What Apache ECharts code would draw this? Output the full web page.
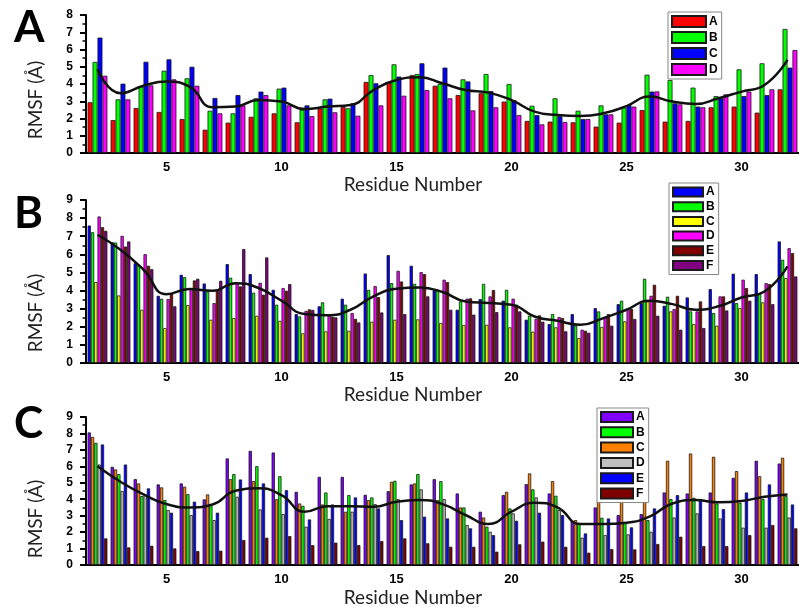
<!DOCTYPE html>
<html>
<head>
<meta charset="utf-8">
<script src="https://cdn.jsdelivr.net/npm/echarts@6/dist/echarts.min.js"></script>
<style>
  html, body { margin: 0; padding: 0; background: #fff; }
  #rmsfChart { width: 799px; height: 607px; }
</style>
</head>
<body>
<div id="rmsfChart"></div>
<script>
// residue numbers (x axis categories)
var residues = ['2','3','4','5','6','7','8','9','10','11','12','13','14','15','16','17',
  '18','19','20','21','22','23','24','25','26','27','28','29','30','31','32'];

// panel A
var aA = [2.94,1.91,2.61,2.38,1.97,1.35,1.76,2.1,2.3,1.78,2.59,2.67,4.12,4.08,4.52,3.9,3.36,3.46,2.98,1.86,1.82,1.78,1.53,1.76,2.49,1.82,1.86,2.65,2.69,2.34,3.69];
var aB = [5.28,3.11,3.88,4.77,4.33,2.45,2.3,3.17,3.73,2.51,3.11,2.59,4.52,5.14,4.58,4.0,4.27,4.58,4.0,2.74,3.17,2.45,2.76,2.63,4.54,4.23,3.79,3.3,4.85,5.2,7.19];
var aC = [6.69,4.02,5.29,5.43,5.0,3.19,3.36,3.56,3.79,2.76,3.15,2.88,4.04,4.43,5.2,4.95,4.15,3.59,3.07,2.2,2.14,1.97,2.24,2.78,3.56,2.88,2.69,3.17,3.3,3.36,4.95];
var aD = [4.48,3.11,3.92,4.27,3.9,2.3,2.76,3.36,2.76,2.14,2.36,2.16,2.76,3.32,3.65,3.17,2.47,2.65,2.2,1.66,1.8,1.97,2.24,2.69,3.57,2.82,2.65,3.4,3.56,3.69,5.97];
var aAvg = [4.85,3.46,3.9,4.14,3.85,2.65,2.69,3.07,2.98,2.55,2.69,2.78,3.65,4.23,4.39,4.04,3.65,3.5,3.07,2.4,2.2,2.14,2.3,2.72,3.27,2.98,2.84,3.17,3.56,3.94,5.4];

// panel B
var bA = [7.59,6.67,5.51,3.71,4.87,4.39,5.46,4.91,4.04,2.7,3.13,3.55,4.94,5.96,5.37,4.01,2.94,3.53,3.44,2.39,2.15,2.7,3.03,3.25,3.31,3.16,3.62,4.08,4.93,4.91,6.71];
var bB = [7.22,6.65,5.42,3.55,4.74,3.95,4.71,3.88,3.22,2.57,3.35,3.22,4.04,4.41,4.37,4.04,3.4,4.37,4.04,2.61,2.7,2.06,2.85,3.44,4.65,3.66,2.85,2.76,3.31,3.81,5.7];
var bC = [4.47,3.73,2.94,1.93,3.2,2.39,2.48,2.61,2.33,1.64,1.75,1.78,2.28,2.39,2.41,2.21,2.1,2.11,1.97,1.73,1.97,1.38,1.99,2.3,3.4,2.85,2.15,2.06,3.03,3.35,4.69];
var bD = [8.09,7.02,6.01,3.53,4.1,3.31,4.41,4.43,4.14,2.88,2.61,2.76,4.25,5.09,5.02,4.6,3.55,3.68,3.55,2.44,2.54,1.84,2.54,3.03,3.71,2.98,2.85,3.68,4.6,4.41,6.34];
var bE = [7.5,6.43,5.37,3.84,4.56,3.99,4.23,3.77,3.99,2.96,2.56,2.44,3.64,4.5,4.91,4.47,3.57,4.03,3.22,2.63,2.48,1.78,2.7,2.98,4.32,3.71,3.4,3.68,4.14,4.36,6.07];
var bF = [7.3,6.71,5.18,3.13,4.65,4.54,6.29,5.83,4.36,2.93,2.52,2.24,2.79,2.7,3.68,2.94,2.67,2.81,2.85,2.28,1.75,1.67,2.06,2.43,2.61,1.84,1.93,2.9,3.44,3.25,4.78];
var bAvg = [7.08,6.25,5.15,3.8,4.08,3.99,4.41,4.14,3.44,2.7,2.63,2.94,3.68,4.1,4.17,3.92,3.4,3.31,3.22,2.57,2.33,2.11,2.48,2.94,3.44,3.25,2.94,3.13,3.62,3.95,5.33];

// panel C
var cA = [8.06,5.97,5.22,4.9,4.96,3.99,6.48,6.94,6.84,4.45,5.36,5.36,4.27,4.49,4.9,5.22,4.35,3.24,4.25,4.92,4.35,2.67,3.5,3.04,3.1,4.41,4.35,4.41,5.3,6.34,6.17];
var cB = [7.43,5.53,4.19,3.95,4.31,3.64,5.53,6.01,5.4,3.6,4.41,4.25,4.11,5.12,5.53,5.1,3.5,2.33,3.44,4.6,4.21,2.49,2.87,2.57,2.73,4.01,4.09,3.74,3.79,4.01,4.19];
var cC = [7.79,5.81,4.96,4.72,4.76,4.29,5.22,5.1,4.0,3.74,3.68,3.24,3.95,5.06,4.96,3.95,3.5,2.89,4.45,5.57,5.1,2.73,3.95,4.11,3.99,6.34,6.78,6.58,5.71,5.4,6.52];
var cD = [6.11,4.5,4.25,3.34,3.04,2.73,4.15,3.38,3.1,2.33,2.8,3.24,3.7,4.0,4.6,4.01,2.43,2.02,3.14,4.11,3.34,1.66,1.82,1.86,2.02,2.89,3.14,2.83,2.27,2.27,2.89];
var cE = [7.33,6.11,4.66,3.18,3.85,3.18,5.2,4.96,4.55,2.77,3.68,4.11,3.44,2.73,2.94,2.83,2.23,1.82,2.69,3.18,3.04,1.92,2.83,2.29,3.44,4.25,3.95,3.4,4.41,4.9,3.68];
var cF = [1.62,1.07,1.17,1.01,0.85,0.87,1.52,1.66,1.76,1.21,1.36,1.21,1.46,1.62,1.32,1.11,1.11,0.81,1.26,1.42,1.11,0.75,0.97,0.95,1.28,1.72,1.15,1.15,1.82,2.43,2.23];
var cAvg = [6.0,5.06,4.29,3.7,3.5,3.68,4.51,4.66,4.25,3.24,3.58,3.58,3.54,3.85,3.95,3.7,3.04,2.49,3.24,3.79,3.5,2.49,2.49,2.57,2.94,3.74,3.95,3.81,3.89,4.15,4.29];

var chartDom = document.getElementById('rmsfChart');
var myChart = echarts.init(chartDom);

// one entry per panel; bars are drawn in "bars" order, legend uses "legendNames"
var panels = [
  {
    key: 'A', top: 15, bottom: 454, max: 8,
    bars: [['A', aA, '#ff0000'], ['B', aB, '#00ff00'], ['C', aC, '#0000ff'], ['D', aD, '#ff00ff']],
    legendNames: ['A', 'B', 'C', 'D'],
    avg: aAvg,
    legend: { left: 668, top: 12, itemWidth: 34, itemHeight: 11, itemGap: 3 }
  },
  {
    key: 'B', top: 200, bottom: 244, max: 9,
    bars: [['A', bA, '#0000ff'], ['B', bB, '#00ff00'], ['C', bC, '#ffff00'], ['D', bD, '#ff00ff'], ['E', bE, '#800000'], ['F', bF, '#800080']],
    legendNames: ['A', 'B', 'C', 'D', 'E', 'F'],
    avg: bAvg,
    legend: { left: 669, top: 183, itemWidth: 30, itemHeight: 9, itemGap: 2.7 }
  },
  {
    key: 'C', top: 417, bottom: 42, max: 9,
    bars: [['A', cA, '#8000ff'], ['C', cC, '#ff8000'], ['B', cB, '#00ff00'], ['D', cD, '#c0c0c0'], ['E', cE, '#0000ff'], ['F', cF, '#800000']],
    legendNames: ['A', 'B', 'C', 'D', 'E', 'F'],
    avg: cAvg,
    legend: { left: 597, top: 408, itemWidth: 32, itemHeight: 10, itemGap: 3.3 }
  }
];

var grids = [], xAxes = [], yAxes = [], series = [], legends = [], texts = [];

panels.forEach(function (p, i) {
  grids.push({ left: 86, right: -6, top: p.top, bottom: p.bottom });

  // main x axis: labels + ticks at 5, 10, ...
  xAxes.push({
    type: 'category', gridIndex: i, data: residues, position: 'bottom',
    axisLine: { lineStyle: { color: '#000', width: 2 } },
    axisTick: {
      alignWithLabel: true, length: 5, lineStyle: { color: '#000', width: 2 },
      interval: function (idx, val) { return Number(val) % 5 === 0; }
    },
    axisLabel: {
      interval: function (idx, val) { return Number(val) % 5 === 0; },
      color: '#000', fontWeight: 'bold', fontSize: 13, margin: 8
    },
    splitLine: { show: false }
  });
  // second x axis only for the small ticks at 2.5, 7.5, ...
  xAxes.push({
    type: 'category', gridIndex: i, data: residues, position: 'bottom',
    axisLine: { show: false },
    axisLabel: { show: false },
    axisTick: {
      length: 3, lineStyle: { color: '#000', width: 2 },
      interval: function (idx) { return idx % 5 === 1; }
    },
    splitLine: { show: false }
  });

  yAxes.push({
    type: 'value', gridIndex: i, min: 0, max: p.max, interval: 1,
    axisLine: { show: true, lineStyle: { color: '#000', width: 2 } },
    axisTick: { show: true, length: 6, lineStyle: { color: '#000', width: 2 } },
    minorTick: { show: true, splitNumber: 2, length: 3.5, lineStyle: { color: '#000', width: 1.5 } },
    axisLabel: { color: '#000', fontWeight: 'bold', fontSize: 12, margin: 13 },
    splitLine: { show: false }
  });

  p.bars.forEach(function (b) {
    series.push({
      name: p.key + ':' + b[0],
      type: 'bar',
      xAxisIndex: i * 2,
      yAxisIndex: i,
      data: b[1],
      barGap: '0%',
      barCategoryGap: '14%',
      itemStyle: { color: b[2], borderColor: '#1a1a1a', borderWidth: 0.8 }
    });
  });

  // smoothed average line
  series.push({
    name: p.key + ':avg',
    type: 'line',
    xAxisIndex: i * 2,
    yAxisIndex: i,
    data: p.avg,
    smooth: 0.5,
    symbol: 'none',
    lineStyle: { color: '#111', width: 2.5 },
    z: 5
  });

  legends.push({
    data: p.legendNames.map(function (n) { return p.key + ':' + n; }),
    orient: 'vertical',
    left: p.legend.left,
    top: p.legend.top,
    itemWidth: p.legend.itemWidth,
    itemHeight: p.legend.itemHeight,
    itemGap: p.legend.itemGap,
    padding: [3, 4, 3, 3],
    borderColor: '#888',
    borderWidth: 1,
    backgroundColor: '#fff',
    icon: 'rect',
    selectedMode: false,
    formatter: function (name) { return name.split(':')[1]; },
    textStyle: { color: '#000', fontWeight: 'bold', fontSize: 12, padding: [0, 0, 0, -2] }
  });
});

// panel letters and axis titles
var letterY = [28, 214, 424];
var rmsfY = [100, 313, 519];
var residueY = [185, 395, 598];
panels.forEach(function (p, i) {
  texts.push({
    type: 'text', left: 14, top: letterY[i] - 22,
    style: { text: p.key, font: 'bold 44px Lato, sans-serif', fill: '#000' }
  });
  texts.push({
    type: 'text', x: 36, y: rmsfY[i], rotation: Math.PI / 2,
    style: { text: 'RMSF (Å)', font: '19px Lato, sans-serif', fill: '#222', textAlign: 'center', textVerticalAlign: 'middle' }
  });
  texts.push({
    type: 'text', x: 413, y: residueY[i],
    style: { text: 'Residue Number', font: '19px Lato, sans-serif', fill: '#222', textAlign: 'center', textVerticalAlign: 'middle' }
  });
});

var option = {
  animation: false,
  backgroundColor: '#fff',
  textStyle: { fontFamily: 'Liberation Sans, Arial, sans-serif' },
  grid: grids,
  xAxis: xAxes,
  yAxis: yAxes,
  legend: legends,
  series: series,
  graphic: texts
};

myChart.setOption(option);
</script>
</body>
</html>
